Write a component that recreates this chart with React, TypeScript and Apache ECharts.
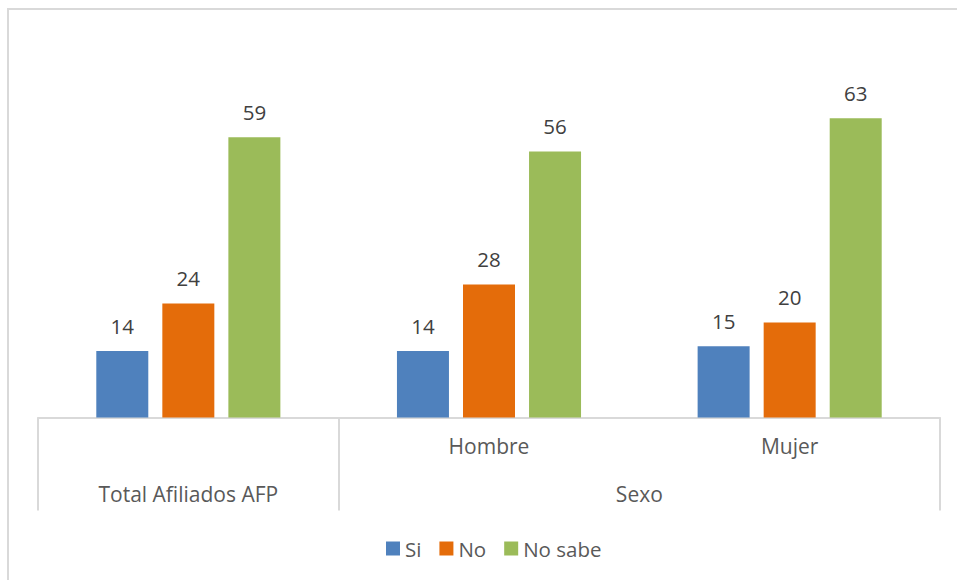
import React, { useEffect, useRef } from "react";
import * as echarts from "echarts";

const categories = ["Total Afiliados AFP", "Hombre", "Mujer"];
const topRowLabels = ["", "Hombre", "Mujer"];
const groupLabelPositions = [0.5, 2];
const groupLabelTexts = ["Total Afiliados AFP", "Sexo"];
const seriesNames = ["Si", "No", "No sabe"];
const siValues = [14, 14, 15];
const noValues = [24, 28, 20];
const noSabeValues = [59, 56, 63];
const seriesColors = ["#4f81bd", "#e46c0a", "#9bbb59"];

const FONT = "Open Sans";
const FS = 20.5;
const AXIS_FS = 21;

export default function App() {
  const ref = useRef<HTMLDivElement>(null);
  useEffect(() => {
    document.body.style.margin = "0";
    const chart = echarts.init(ref.current!, null, { renderer: "svg" });
    const values = [siValues, noValues, noSabeValues];
    chart.setOption({
      animation: false,
      backgroundColor: "#ffffff",
      textStyle: { fontFamily: FONT },
      graphic: [
        {
          type: "rect",
          shape: { x: 8, y: 9, width: 1100, height: 700 },
          style: { fill: "none", stroke: "#d9d9d9", lineWidth: 2 },
          silent: true,
        },
      ],
      legend: {
        data: seriesNames,
        left: 381,
        top: 533,
        icon: "rect",
        itemWidth: 14,
        itemHeight: 14,
        itemGap: 18,
        textStyle: { fontFamily: FONT, fontSize: FS, color: "#595959" },
      },
      grid: { left: 38, right: 17, top: 85, bottom: 162.5, containLabel: false },
      xAxis: [
        {
          type: "category",
          data: categories,
          position: "bottom",
          axisLine: { show: true, lineStyle: { color: "#d9d9d9", width: 2 } },
          axisTick: {
            show: true,
            length: 93,
            interval: (i: number) => i !== 2,
            lineStyle: { color: "#d9d9d9", width: 2 },
          },
          axisLabel: {
            interval: 0,
            margin: 18,
            fontFamily: FONT,
            fontSize: AXIS_FS,
            color: "#595959",
            formatter: (_v: string, i: number) => topRowLabels[i],
          },
          splitLine: { show: false },
        },
        {
          type: "value",
          min: 0,
          max: 3,
          interval: 0.5,
          position: "bottom",
          axisLine: { show: false },
          axisTick: { show: false },
          splitLine: { show: false },
          axisLabel: {
            margin: 66,
            fontFamily: FONT,
            fontSize: AXIS_FS,
            color: "#595959",
            showMinLabel: true,
            showMaxLabel: true,
            formatter: (v: number) => {
              const idx = groupLabelPositions.indexOf(v);
              return idx >= 0 ? groupLabelTexts[idx] : "";
            },
          },
        },
      ],
      yAxis: {
        type: "value",
        min: 0,
        max: 70,
        show: false,
        splitLine: { show: false },
      },
      series: seriesNames.map((name, si) => ({
        name,
        type: "bar",
        xAxisIndex: 0,
        data: values[si],
        barWidth: 52,
        barGap: "27%",
        itemStyle: { color: seriesColors[si] },
        label: {
          show: true,
          position: "top",
          distance: 15,
          fontFamily: FONT,
          fontSize: FS,
          color: "#404040",
        },
      })),
    });
    return () => chart.dispose();
  }, []);
  return (
    <div style={{ position: "fixed", left: 0, top: 0, width: 957, height: 580, overflow: "hidden" }}>
      <div ref={ref} style={{ width: 957, height: 580 }} />
    </div>
  );
}
